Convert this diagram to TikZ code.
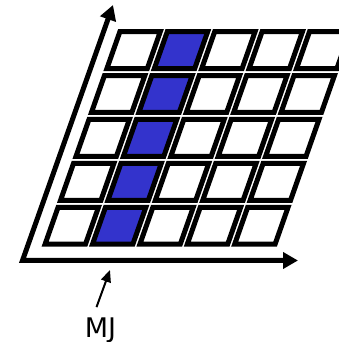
\documentclass[tikz,border=0pt]{standalone}
\usepackage{fontspec}
\newfontfamily\labelfont{DejaVu Sans}
\usetikzlibrary{arrows.meta}
\definecolor{cellblue}{RGB}{51,51,204}
\begin{document}
\begin{tikzpicture}[x=1pt,y=1pt,
  cell/.style={draw=black,line width=5pt,fill=white,line join=miter},
  bluecell/.style={cell,fill=cellblue},
  axis/.style={line width=5pt,line join=miter,
    {Triangle[length=15pt,width=16pt]}-{Triangle[length=15pt,width=16pt]}},
  pointer/.style={line width=2pt,-{Triangle[length=12pt,width=10pt]}},
  lbl/.style={font=\labelfont\fontsize{27}{30}\selectfont,inner sep=0pt}
]
\useasboundingbox (0,0) rectangle (339,342);
\clip (0,0) rectangle (339,342);
% grid of cells
\begin{scope}[shift={(41.7,95.3)},xslant=0.352]
\foreach \r in {0,...,4}{
  \foreach \c in {0,...,4}{
    \pgfmathsetmacro\xa{\c*47.4+2.5}
    \pgfmathsetmacro\xb{\c*47.4+45.4-2.5}
    \pgfmathsetmacro\ya{\r*43.9+2.5}
    \pgfmathsetmacro\yb{\r*43.9+41.9-2.5}
    \ifnum\c=1
      \draw[bluecell] (\xa,\ya) -- (\xb,\ya) -- (\xb,\yb) -- (\xa,\yb) -- cycle;
    \else
      \draw[cell] (\xa,\ya) -- (\xb,\ya) -- (\xb,\yb) -- (\xa,\yb) -- cycle;
    \fi
  }
}
\end{scope}
% axes
\coordinate (O) at (22.5,81.5);
\coordinate (ytip) at (113,337);
\coordinate (xtip) at (298,81.5);
\draw[axis] (ytip) -- (O) -- (xtip);
% label
\node[lbl,anchor=base] (mj) at (100.5,5) {MJ};
\coordinate (mjtip) at (110,72);
\draw[pointer] ([xshift=-4pt,yshift=10pt]mj.north) -- (mjtip);
\end{tikzpicture}
\end{document}
